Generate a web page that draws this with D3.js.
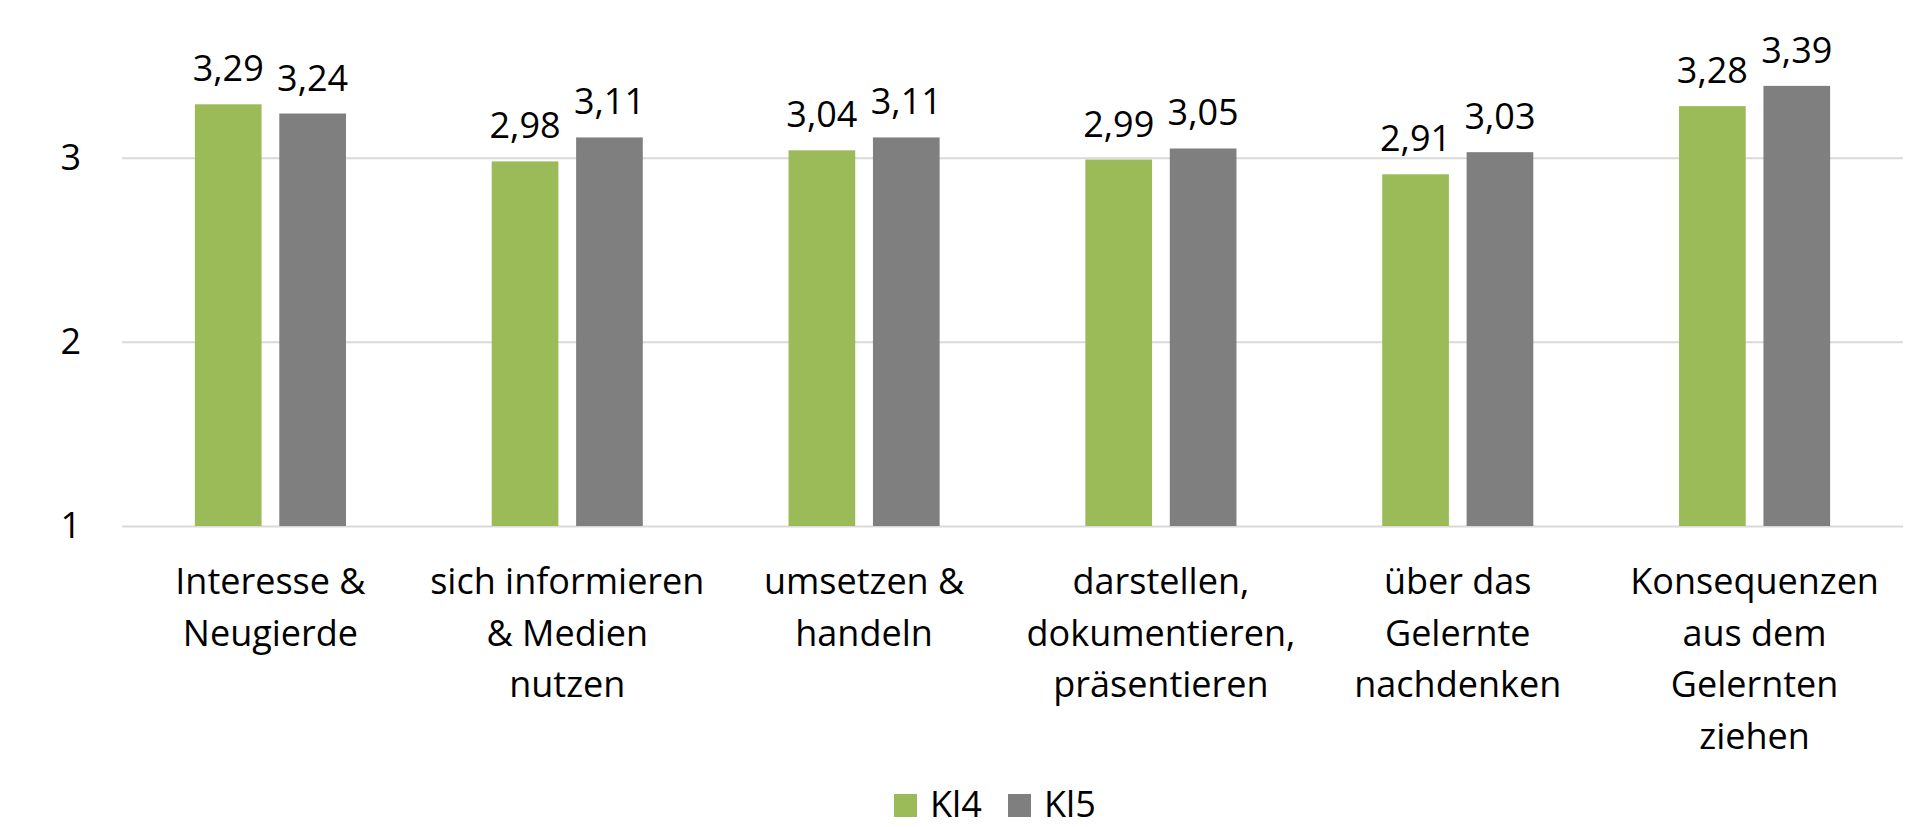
<!DOCTYPE html>
<html>
<head>
<meta charset="utf-8">
<script src="https://cdn.jsdelivr.net/npm/d3@7"></script>
<style>
  html, body { margin: 0; padding: 0; background: #fff; }
  svg { display: block; }
  text { font-family: "Open Sans", sans-serif; fill: #000; }
</style>
</head>
<body>
<svg id="chart" width="1927" height="827"></svg>
<script>
// data
var categories = [
    ["Interesse &", "Neugierde"],
    ["sich informieren", "& Medien", "nutzen"],
    ["umsetzen &", "handeln"],
    ["darstellen,", "dokumentieren,", "präsentieren"],
    ["über das", "Gelernte", "nachdenken"],
    ["Konsequenzen", "aus dem", "Gelernten", "ziehen"]
];
var seriesNames = ["Kl4", "Kl5"];
var kl4 = [3.29, 2.98, 3.04, 2.99, 2.91, 3.28];
var kl5 = [3.24, 3.11, 3.11, 3.05, 3.03, 3.39];
var yTicks = [1, 2, 3];
var colors = ["#9bbb59", "#7f7f7f"];

var svg = d3.select("#chart");

var left = 122, right = 1903;
var catKeys = categories.map(function (c) { return c.join(" "); });

// x scale for groups, second scale for the two bars inside a group
var x0 = d3.scaleBand()
    .domain(catKeys)
    .range([left, right])
    .paddingInner(0.491)
    .paddingOuter(0.2455);

var x1 = d3.scaleBand()
    .domain(seriesNames)
    .range([0, x0.bandwidth()])
    .paddingInner(0.21);

// top of the chart is cropped off in the reference, so 3 sits high
var y = d3.scaleLinear()
    .domain([1, 3])
    .range([526, 157.7]);

// gridlines + y labels
var yAxis = svg.append("g")
    .attr("transform", "translate(" + left + ",0)")
    .call(d3.axisLeft(y)
        .tickValues(yTicks)
        .tickSize(-(right - left))
        .tickPadding(41)
        .tickFormat(d3.format("d")));

yAxis.select(".domain").remove();
yAxis.selectAll(".tick line")
    .attr("stroke", "#d9d9d9")
    .attr("stroke-width", 2);
yAxis.selectAll(".tick text")
    .attr("font-family", "Open Sans")
    .attr("font-size", "36px")
    .attr("fill", "#000");

var rows = categories.map(function (c, i) {
    return { key: catKeys[i], lines: c, values: [kl4[i], kl5[i]] };
});

var groups = svg.selectAll("g.group")
    .data(rows)
    .enter()
    .append("g")
    .attr("class", "group")
    .attr("transform", function (d) { return "translate(" + x0(d.key) + ",0)"; });

var bars = groups.selectAll("g.bar")
    .data(function (d) {
        return d.values.map(function (v, j) { return { name: seriesNames[j], value: v, idx: j }; });
    })
    .enter()
    .append("g")
    .attr("class", "bar");

bars.append("rect")
    .attr("x", function (d) { return x1(d.name); })
    .attr("y", function (d) { return y(d.value); })
    .attr("width", x1.bandwidth())
    .attr("height", function (d) { return y(1) - y(d.value); })
    .attr("fill", function (d) { return colors[d.idx]; });

var fmt = d3.format(".2f");
bars.append("text")
    .attr("x", function (d) { return x1(d.name) + x1.bandwidth() / 2; })
    .attr("y", function (d) { return y(d.value) - 23; })
    .attr("text-anchor", "middle")
    .attr("font-size", "36px")
    .text(function (d) { return fmt(d.value).replace(".", ","); });

// category labels, several lines each
groups.append("text")
    .attr("text-anchor", "middle")
    .attr("font-size", "36px")
    .selectAll("tspan")
    .data(function (d) { return d.lines; })
    .enter()
    .append("tspan")
    .attr("x", x0.bandwidth() / 2)
    .attr("y", function (d, i) { return 594 + i * 51.5; })
    .text(function (d) { return d; });

// legend, nudged up a little so the text box stays inside the page
var legendX = [894, 1008];
var legend = svg.selectAll("g.legend")
    .data(seriesNames)
    .enter()
    .append("g")
    .attr("class", "legend")
    .attr("transform", function (d, i) { return "translate(" + legendX[i] + ",794)"; });

legend.append("rect")
    .attr("width", 23)
    .attr("height", 23)
    .attr("fill", function (d, i) { return colors[i]; });

legend.append("text")
    .attr("x", 36)
    .attr("y", 23)
    .attr("font-size", "36px")
    .text(function (d) { return d; });
</script>
</body>
</html>
